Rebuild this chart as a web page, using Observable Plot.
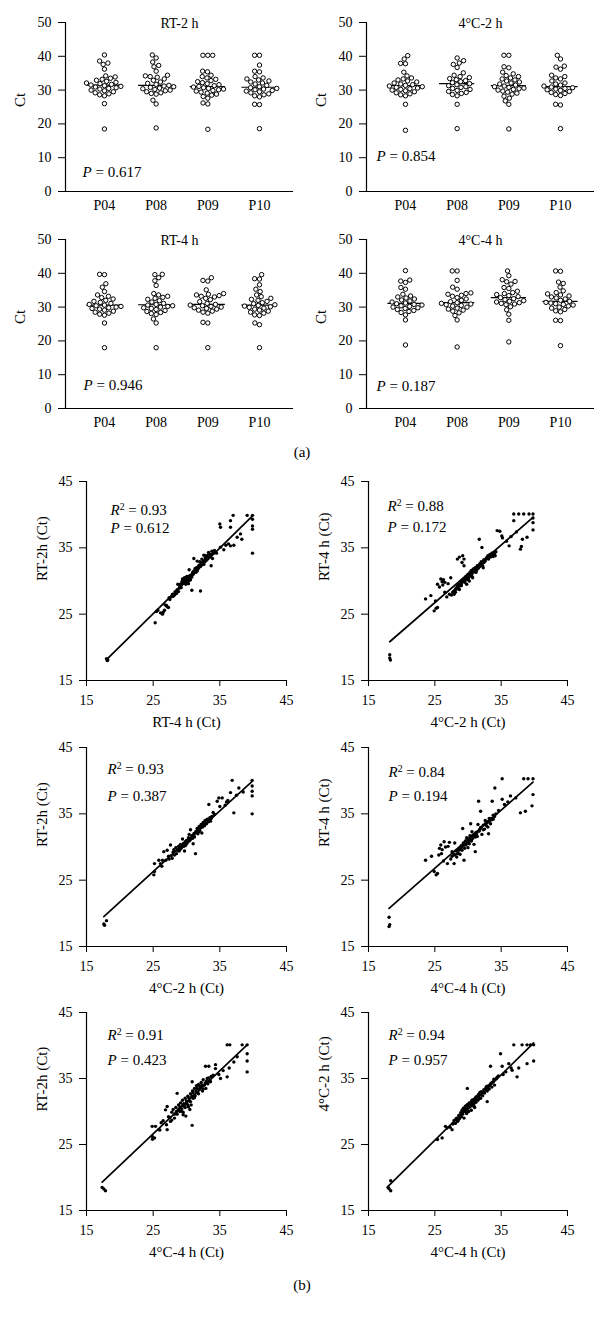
<!DOCTYPE html>
<html><head><meta charset="utf-8">
<script src="https://cdn.jsdelivr.net/npm/d3@7"></script>
<script src="https://cdn.jsdelivr.net/npm/@observablehq/plot@0.6"></script>
<style>
html,body{margin:0;padding:0;background:#fff;}
#fig{position:relative;width:605px;height:1318px;font-family:"Liberation Serif",serif;color:#000;overflow:hidden;}
#fig svg{position:absolute;overflow:visible;}
.lab{position:absolute;font-size:15px;transform:translate(-50%,-50%);}
</style></head><body><div id="fig"></div>
<script>
// ---------- (a) dot-plot data: Ct values per sample group ----------
const groups = ["P04", "P08", "P09", "P10"];
const dotTitles = ["RT-2 h", "4°C-2 h", "RT-4 h", "4°C-4 h"];
const dotP = ["0.617", "0.854", "0.946", "0.187"];

const ct_RT2h_P04 = [40.4,38.6,38.0,37.6,36.2,34.2,33.9,33.5,33.2,32.9,32.6,32.3,32.1,31.9,31.7,31.5,31.3,31.1,30.9,30.7,30.5,30.3,30.0,29.8,29.5,29.2,28.9,28.6,28.3,26.0,18.5];
const ct_RT2h_P08 = [40.4,39.5,38.3,37.3,36.9,35.6,34.4,34.2,34.0,33.8,33.3,32.9,32.4,32.0,31.7,31.4,31.2,31.0,30.8,30.6,30.4,30.2,30.0,29.8,29.5,29.2,29.0,28.8,27.0,25.9,18.8];
const ct_RT2h_P09 = [40.3,40.3,40.3,35.6,35.4,34.4,34.0,33.6,33.2,32.8,32.5,32.2,31.9,31.6,31.3,31.1,30.9,30.7,30.5,30.3,30.1,29.9,29.7,29.4,29.1,28.8,28.5,28.1,27.6,26.2,25.9,18.4];
const ct_RT2h_P10 = [40.3,40.3,37.4,35.6,35.4,34.0,33.6,33.3,33.0,32.7,32.4,32.1,31.8,31.4,31.0,30.7,30.5,30.3,30.1,29.9,29.7,29.5,29.2,28.9,28.6,28.3,28.0,25.8,25.7,18.6];

const ct_C2h_P04 = [40.2,39.2,37.9,37.8,35.3,34.2,33.6,33.3,33.0,32.7,32.4,32.1,31.8,31.6,31.4,31.2,31.0,30.8,30.6,30.4,30.2,30.0,29.8,29.5,29.2,28.9,28.6,28.3,25.8,18.1];
const ct_C2h_P08 = [39.5,38.7,38.0,37.6,36.7,35.1,34.4,34.0,33.7,33.4,33.1,32.8,32.5,32.2,31.9,31.6,31.3,31.0,30.8,30.5,30.2,29.9,29.6,29.3,29.0,28.7,28.3,25.8,18.6];
const ct_C2h_P09 = [40.3,40.3,36.9,36.6,35.3,34.8,34.3,34.0,33.6,33.3,33.0,32.7,32.4,32.1,31.8,31.5,31.2,31.0,30.8,30.6,30.4,30.2,30.0,29.7,29.4,29.1,28.8,28.2,27.6,26.8,25.8,18.5];
const ct_C2h_P10 = [40.3,39.2,37.1,36.8,36.2,34.4,34.0,33.6,33.3,32.7,32.1,31.8,31.5,31.2,30.9,30.7,30.5,30.3,30.1,29.9,29.6,29.3,29.0,28.7,28.4,25.8,25.6,18.6];

const ct_RT4h_P04 = [39.7,39.6,36.9,35.9,34.6,33.6,33.2,32.8,32.4,32.0,31.7,31.4,31.1,30.8,30.6,30.4,30.2,30.0,29.8,29.6,29.4,29.1,28.8,28.5,28.2,27.9,27.6,25.3,18.0];
const ct_RT4h_P08 = [39.7,39.6,38.7,37.8,36.4,34.0,33.6,33.2,32.9,32.6,32.3,31.9,31.5,31.1,30.8,30.6,30.4,30.2,30.0,29.8,29.6,29.3,29.0,28.7,28.4,28.1,27.8,26.5,25.3,18.0];
const ct_RT4h_P09 = [38.7,37.9,37.7,35.1,34.0,33.8,33.6,33.4,33.2,33.0,32.6,32.2,31.6,31.1,30.8,30.6,30.4,30.2,30.0,29.8,29.6,29.4,29.1,28.8,28.5,28.2,25.5,25.3,18.0];
const ct_RT4h_P10 = [39.6,38.4,38.3,36.6,35.3,34.6,33.6,33.1,32.6,32.3,32.0,31.7,31.3,31.0,30.7,30.5,30.3,30.1,29.9,29.7,29.4,29.1,28.8,28.5,28.2,27.7,27.5,25.3,24.8,18.0];

const ct_C4h_P04 = [40.8,38.0,37.7,37.3,35.8,35.3,33.8,33.3,33.0,32.7,32.4,32.1,31.8,31.5,31.2,31.0,30.8,30.6,30.4,30.2,30.0,29.8,29.6,29.3,29.0,28.7,28.4,27.7,26.2,18.8];
const ct_C4h_P08 = [40.7,40.7,37.9,35.9,35.3,34.2,34.0,33.8,33.5,33.2,32.8,32.4,32.0,31.6,31.3,31.1,30.9,30.7,30.5,30.3,30.0,29.7,29.4,29.1,28.8,28.3,27.5,26.2,18.2];
const ct_C4h_P09 = [40.7,39.3,38.1,37.6,37.5,36.8,35.8,35.5,34.7,34.3,34.0,33.7,33.4,33.1,32.8,32.5,32.2,31.9,31.7,31.5,31.3,31.1,30.9,30.7,30.1,29.2,27.9,26.1,19.7];
const ct_C4h_P10 = [40.7,40.6,37.4,37.0,35.9,34.8,34.3,33.9,33.6,33.3,33.0,32.7,32.4,32.0,31.7,31.4,31.2,31.0,30.8,30.6,30.3,30.0,29.7,29.3,28.9,28.6,26.1,26.0,18.6];

// ---------- (b) scatter data: [x, y] pairs ----------
const sc_RT4h_RT2h = [[18.0,18.3],[18.1,18.0],[18.2,18.1],[25.3,23.7],[25.5,25.4],[25.7,25.6],[26.1,25.2],[26.5,25.3],[26.8,26.4],[27.1,26.1],[27.3,26.0],[27.4,27.5],[27.7,27.6],[27.9,28.0],[28.2,27.9],[28.3,28.4],[28.6,28.7],[28.8,28.4],[29.0,29.2],[29.1,29.5],[29.3,29.9],[29.4,30.3],[29.5,29.7],[29.6,30.1],[29.7,30.5],[29.8,29.9],[29.9,30.3],[30.0,30.6],[30.0,30.0],[30.1,29.8],[30.2,30.4],[30.3,30.2],[30.4,30.7],[30.5,30.1],[30.6,30.5],[30.3,29.6],[30.7,30.9],[30.9,31.2],[31.0,31.0],[30.8,28.6],[31.2,31.6],[31.4,31.3],[31.5,32.0],[31.7,31.8],[31.9,32.4],[32.0,32.9],[32.2,32.6],[32.3,33.3],[32.5,33.0],[32.6,32.5],[32.8,33.5],[32.9,33.8],[33.0,33.2],[33.2,33.9],[33.3,34.3],[33.4,33.6],[33.6,34.0],[33.7,32.3],[33.9,33.4],[34.0,34.2],[32.1,28.5],[31.1,33.4],[30.4,31.7],[35.0,38.6],[35.1,38.1],[35.1,35.1],[35.6,34.7],[35.9,35.4],[36.3,35.6],[36.6,39.1],[36.6,38.1],[36.6,35.3],[37.0,39.9],[37.1,35.4],[37.6,36.6],[38.1,37.1],[38.3,36.3],[39.1,39.9],[39.9,39.9],[39.9,39.3],[39.9,38.3],[39.9,37.8],[39.9,34.2],
[28.9,28.9],[29.2,29.4],[29.4,29.6],[29.6,29.8],[29.8,30.2],[30.0,30.3],[30.1,30.7],[30.2,29.9],[30.4,30.4],[30.5,30.8],[30.6,30.2],[30.8,30.6],[31.0,31.4],[31.3,31.9],[31.6,31.5],[31.8,32.2],[32.1,32.2],[32.4,32.8],[32.7,33.1],[33.1,33.6],[33.5,33.9],[33.8,34.5],[34.2,34.6],[34.5,34.2],[26.4,25.0],[26.7,25.6],[27.0,26.3],[27.5,27.2],[28.0,27.7],[28.5,28.1],[29.2,29.0],[29.9,29.5],[31.6,33.0],[32.6,33.9],[28.7,29.5]];
const sc_C2h_RT4h = [[18.2,18.9],[18.2,18.4],[18.3,18.1],[23.6,27.3],[24.4,27.8],[24.9,25.5],[25.1,27.0],[25.2,25.9],[25.4,26.0],[25.4,29.5],[25.7,29.1],[25.9,30.3],[26.1,29.9],[26.3,30.2],[26.5,28.3],[26.8,27.6],[27.0,29.6],[27.4,30.5],[27.5,27.9],[27.7,28.3],[27.9,28.0],[28.0,28.6],[28.2,28.9],[28.4,33.3],[28.4,29.2],[28.6,29.5],[28.7,28.7],[28.9,29.9],[29.0,29.3],[29.1,32.8],[29.2,33.8],[29.3,30.1],[29.4,33.3],[29.5,29.8],[29.6,30.4],[29.7,30.7],[29.8,29.5],[29.9,30.2],[30.0,31.0],[30.1,30.5],[30.2,30.0],[30.3,31.3],[30.4,30.8],[30.5,31.6],[30.6,31.1],[30.7,30.5],[30.8,31.8],[31.0,31.4],[31.1,32.0],[31.3,31.6],[31.4,32.3],[31.6,32.0],[31.7,36.3],[31.8,32.6],[32.0,32.9],[32.1,35.05],[32.2,32.3],[32.4,33.2],[32.6,33.0],[32.8,33.5],[33.0,33.8],[33.1,33.3],[33.3,34.0],[33.4,33.6],[33.6,34.2],[33.8,33.7],[34.0,34.1],[34.2,34.4],[34.4,37.6],[34.8,37.5],[35.1,36.8],[35.2,36.5],[36.2,35.3],[36.9,39.1],[36.9,40.1],[37.65,40.1],[38.4,40.1],[39.2,40.1],[37.9,34.8],[38.05,35.2],[38.2,36.3],[38.9,36.6],[39.8,40.1],[39.8,39.5],[39.8,38.8],[39.8,37.7],[35.8,36.0],[36.5,36.7],[37.3,37.4],
[28.6,28.9],[28.8,29.3],[29.0,29.6],[29.2,29.9],[29.4,30.0],[29.6,30.1],[29.8,30.6],[30.0,30.3],[30.2,30.8],[30.4,31.2],[30.6,30.7],[30.8,31.4],[31.0,31.8],[31.2,31.3],[31.5,31.9],[31.8,32.2],[32.1,32.6],[32.4,32.8],[32.7,33.3],[33.0,33.4],[33.3,33.9],[33.6,34.0],[33.9,34.3],[34.1,33.8],[27.8,28.4],[28.1,28.3],[28.3,28.8],[26.2,29.4],[26.5,29.8],[28.7,33.6],[29.4,32.3],[27.2,28.0],[32.3,32.0]];
const sc_C2h_RT2h = [[17.6,18.4],[17.7,18.2],[18.0,18.9],[25.1,25.8],[25.2,26.3],[25.2,27.5],[25.85,28.0],[26.3,27.1],[26.6,29.3],[26.9,28.0],[27.1,29.5],[27.3,28.6],[27.6,30.3],[27.85,28.3],[28.0,29.2],[28.2,28.8],[28.4,29.9],[28.6,29.5],[28.8,30.1],[29.0,29.6],[29.1,30.4],[29.3,30.0],[29.4,31.2],[29.5,30.5],[29.6,30.1],[29.8,30.8],[29.9,30.3],[30.0,31.0],[30.1,30.6],[30.3,31.4],[30.4,30.9],[30.6,32.6],[30.6,31.2],[30.8,31.7],[30.9,31.3],[31.1,32.0],[31.2,31.5],[31.35,29.0],[31.4,32.3],[31.6,32.8],[31.7,32.0],[31.9,33.1],[32.0,32.5],[32.2,33.4],[32.4,33.0],[32.5,33.7],[32.7,33.2],[32.8,34.0],[33.0,33.5],[33.1,34.2],[33.3,33.8],[33.5,34.4],[33.6,33.9],[33.8,34.6],[33.35,36.4],[34.0,35.2],[34.6,36.9],[34.85,37.4],[35.35,37.4],[35.8,36.3],[36.2,37.0],[36.6,38.2],[36.85,40.05],[37.1,35.15],[37.5,37.8],[37.85,38.9],[38.5,38.3],[39.85,40.05],[39.85,39.2],[39.85,38.4],[39.85,37.7],[39.85,35.0],[32.3,32.1],[31.0,30.5],[29.7,29.4],
[28.5,29.0],[28.9,29.4],[29.2,29.8],[29.4,30.1],[29.6,30.5],[29.8,30.2],[30.0,30.6],[30.2,30.9],[30.5,31.0],[30.7,31.3],[30.9,31.6],[31.1,31.7],[31.3,32.1],[31.5,32.4],[31.8,32.6],[32.1,32.9],[32.3,33.2],[32.6,33.4],[32.9,33.6],[33.2,34.0],[33.4,34.1],[33.7,34.3],[34.2,34.9],[27.4,28.2],[27.7,28.7],[28.1,29.6],[26.1,27.5],[26.4,28.0],[35.0,36.1],[36.0,36.8],[30.4,31.9],[31.9,32.3]];
const sc_C4h_RT4h = [[18.1,19.4],[18.2,18.3],[18.1,18.0],[23.6,28.0],[24.5,28.6],[24.9,26.3],[25.2,25.8],[25.4,26.0],[25.6,28.8],[25.9,30.3],[26.1,29.6],[26.4,30.8],[26.6,30.0],[26.9,27.5],[27.2,30.7],[27.4,28.2],[27.6,29.3],[27.9,27.5],[28.0,28.8],[28.2,29.4],[28.3,28.5],[28.5,29.1],[28.7,29.8],[28.8,28.9],[29.0,30.2],[29.1,29.5],[29.3,30.6],[29.4,28.0],[29.5,29.8],[29.6,30.9],[29.7,30.3],[29.8,31.4],[29.9,30.6],[30.0,29.9],[30.1,31.1],[30.2,30.5],[30.3,31.7],[30.5,30.9],[30.6,32.3],[30.7,31.3],[30.9,30.4],[31.0,31.8],[31.1,29.3],[31.2,32.2],[31.4,31.6],[31.5,33.4],[31.6,36.9],[31.7,32.4],[31.9,35.4],[31.9,32.9],[32.1,31.9],[32.3,33.3],[32.5,32.7],[32.6,34.0],[32.8,33.2],[33.0,33.8],[33.1,32.0],[33.2,34.3],[33.4,33.5],[33.65,36.9],[33.6,34.1],[33.8,34.8],[34.05,38.9],[34.2,35.0],[34.6,35.5],[35.15,40.3],[35.15,37.2],[35.5,36.4],[36.0,36.8],[36.4,37.7],[37.2,37.4],[37.9,35.15],[38.4,40.3],[38.65,35.4],[39.05,40.3],[39.65,36.2],[39.8,40.3],[39.8,37.9],[30.4,33.5],[29.2,32.8],
[28.4,29.0],[28.6,29.5],[28.9,29.7],[29.1,30.0],[29.3,30.2],[29.5,30.4],[29.7,30.7],[29.9,31.0],[30.1,30.8],[30.3,31.4],[30.5,31.0],[30.7,31.7],[30.9,31.9],[31.1,31.5],[31.3,32.0],[31.6,32.4],[31.8,32.7],[32.0,33.0],[32.3,32.6],[32.6,33.5],[32.9,33.7],[33.2,33.9],[33.5,34.3],[33.8,34.2],[34.0,34.6],[27.6,28.6],[27.9,28.9],[26.3,27.9],[26.0,29.0],[25.7,29.8],[27.0,30.1],[28.0,30.6],[33.0,33.0]];
const sc_C4h_RT2h = [[17.35,18.5],[17.6,18.25],[17.85,18.0],[24.85,26.25],[24.9,25.8],[24.85,27.75],[25.35,27.75],[25.85,27.25],[26.2,28.3],[26.5,28.6],[26.85,30.25],[27.1,27.25],[27.1,30.75],[27.3,29.2],[27.6,28.5],[27.8,29.9],[28.0,30.3],[28.2,29.0],[28.4,30.6],[28.6,32.75],[28.6,29.6],[28.8,31.0],[29.0,30.0],[29.1,31.3],[29.3,30.4],[29.4,31.7],[29.5,29.5],[29.7,30.8],[29.8,32.0],[29.9,29.3],[30.0,31.2],[30.2,32.3],[30.3,30.7],[30.4,31.6],[30.6,32.7],[30.7,31.0],[30.85,34.5],[30.85,27.9],[30.9,33.1],[31.0,32.0],[31.2,33.5],[31.3,32.4],[31.5,33.9],[31.6,32.9],[31.8,34.1],[31.9,33.3],[32.1,33.6],[32.2,34.4],[32.4,33.1],[32.5,34.8],[32.7,34.0],[32.85,36.85],[32.9,33.5],[33.1,35.0],[33.2,34.2],[33.35,36.85],[33.5,34.7],[33.7,35.3],[34.0,35.5],[34.35,37.1],[34.35,36.5],[34.85,35.6],[35.1,35.0],[35.5,36.2],[36.1,35.25],[36.1,40.1],[36.5,40.1],[36.4,36.6],[37.1,37.5],[37.6,38.3],[38.35,40.1],[39.1,40.1],[39.1,38.75],[39.1,37.65],[39.1,36.0],
[28.2,29.6],[28.5,30.0],[28.8,30.3],[29.0,30.7],[29.2,30.1],[29.4,30.9],[29.6,31.2],[29.8,30.6],[30.0,31.6],[30.2,31.0],[30.4,32.0],[30.6,31.5],[30.8,32.3],[31.0,32.8],[31.2,32.1],[31.4,33.1],[31.6,33.5],[31.8,32.7],[32.0,33.8],[32.3,34.0],[32.5,33.4],[32.8,34.3],[33.0,34.6],[33.3,35.1],[33.6,34.5],[27.5,29.1],[27.8,28.7],[27.0,28.0],[26.0,27.2],[25.2,26.0],[29.5,29.9],[30.5,30.3]];
const sc_C4h_C2h = [[17.95,18.5],[18.35,19.5],[18.35,18.0],[18.1,18.3],[25.4,25.75],[26.1,26.0],[26.6,27.75],[26.85,27.5],[27.3,27.6],[27.6,27.25],[27.9,28.65],[28.1,28.2],[28.3,29.0],[28.4,28.5],[28.6,29.4],[28.7,28.9],[28.9,29.8],[29.0,29.2],[29.1,30.2],[29.2,29.6],[29.3,30.5],[29.4,29.0],[29.5,30.0],[29.6,30.8],[29.7,30.3],[29.8,29.7],[29.9,33.5],[29.9,31.0],[30.0,30.5],[30.1,30.0],[30.2,31.3],[30.3,30.7],[30.4,31.0],[30.5,30.2],[30.6,31.5],[30.7,30.9],[30.8,31.8],[30.9,31.2],[31.0,30.6],[31.1,32.0],[31.2,31.4],[31.4,32.3],[31.5,31.7],[31.7,32.5],[31.9,32.0],[32.0,33.0],[32.2,32.4],[32.4,33.3],[32.5,32.8],[32.7,33.6],[32.9,31.5],[32.9,33.1],[33.1,33.9],[33.2,33.4],[33.4,36.85],[33.4,34.2],[33.6,33.7],[33.8,34.5],[34.0,34.0],[34.3,35.0],[34.6,35.4],[34.9,38.75],[35.15,36.85],[35.3,35.6],[35.7,36.0],[36.15,37.25],[36.5,36.6],[36.65,36.25],[36.9,40.1],[37.4,35.25],[37.65,36.6],[38.15,40.1],[38.9,40.1],[38.9,37.25],[39.4,40.1],[39.9,40.1],[39.9,37.65],
[28.8,29.3],[29.0,29.7],[29.2,30.0],[29.4,30.3],[29.6,30.5],[29.8,30.9],[30.0,31.1],[30.1,30.6],[30.3,31.3],[30.5,31.0],[30.6,31.7],[30.8,31.4],[31.0,31.9],[31.2,32.2],[31.4,31.9],[31.6,32.6],[31.8,32.9],[32.1,32.9],[32.3,33.0],[32.6,33.3],[32.8,33.8],[33.0,33.5],[33.3,34.0],[33.6,34.4],[33.9,34.9],[34.4,35.2],[28.5,28.6],[28.2,28.9],[27.7,28.1],[29.9,30.0],[30.9,30.8],[31.7,32.0]];

const scXLabels = ["RT-4 h (Ct)", "4°C-2 h (Ct)", "4°C-2 h (Ct)", "4°C-4 h (Ct)", "4°C-4 h (Ct)", "4°C-4 h (Ct)"];
const scYLabels = ["RT-2h (Ct)", "RT-4 h (Ct)", "RT-2h (Ct)", "RT-4 h (Ct)", "RT-2h (Ct)", "4°C-2 h (Ct)"];
const scR2 = ["0.93", "0.88", "0.93", "0.84", "0.91", "0.94"];
const scP = ["0.612", "0.172", "0.387", "0.194", "0.423", "0.957"];
const ticksA = [0, 10, 20, 30, 40, 50];
const ticksB = [15, 25, 35, 45];

// ---------- helpers ----------
const fig = document.getElementById("fig");
const FONT = "'Liberation Serif', 'Times New Roman', serif";

function place(svg, left, top) {
  svg.style.left = left + "px";
  svg.style.top = top + "px";
  svg.querySelectorAll("text").forEach(t => {
    const s = t.textContent;
    if (/^P = /.test(s)) {
      t.innerHTML = '<tspan font-style="italic">P</tspan> = ' + s.slice(4);
    } else if (/^R2 = /.test(s)) {
      t.innerHTML = '<tspan font-style="italic">R</tspan><tspan font-size="0.66em" dy="-0.5em">2</tspan><tspan dy="0.33em"> = ' + s.slice(5) + '</tspan>';
    }
  });
  fig.appendChild(svg);
}

function swarm(values, pxPerUnit, D) {
  const idx = d3.range(values.length).sort((a, b) => values[a] - values[b]);
  const placed = [], off = new Array(values.length);
  for (const i of idx) {
    const y = values[i] * pxPerUnit;
    const forb = [];
    for (const p of placed) {
      const dy = y - p.y;
      if (Math.abs(dy) < D) { const w = Math.sqrt(D * D - dy * dy); forb.push([p.x - w, p.x + w]); }
    }
    const cands = [0];
    for (const [a, b] of forb) cands.push(a, b);
    cands.sort((a, b) => Math.abs(a) - Math.abs(b) || a - b);
    let x = 0;
    for (const c of cands) {
      if (forb.every(([a, b]) => c <= a + 1e-6 || c >= b - 1e-6)) { x = c; break; }
    }
    placed.push({x, y});
    off[i] = x;
  }
  return off;
}

// ---------- (a) panels ----------
const A = {w: 300, h: 215, ml: 65, mr: 7, mt: 22, mb: 24};
const xDomainA = [-0.754, 3.658];
const pxPerGroup = (A.w - A.ml - A.mr) / (xDomainA[1] - xDomainA[0]);
const pxPerCt = (A.h - A.mt - A.mb) / 50;

function dotPanel(title, p, data, left, top, pdx, pdy) {
  const rows = [], meds = [];
  data.forEach((vals, gi) => {
    const off = swarm(vals, pxPerCt, 4.9);
    vals.forEach((v, i) => rows.push({x: gi + off[i] / pxPerGroup, y: v}));
    meds.push({gi, m: d3.median(vals)});
  });
  const svg = Plot.plot({
    width: A.w, height: A.h, marginLeft: A.ml, marginRight: A.mr, marginTop: A.mt, marginBottom: A.mb,
    x: {domain: xDomainA}, y: {domain: [0, 50]},
    style: {fontFamily: FONT, fontSize: "14px", background: "transparent", color: "black", overflow: "visible"},
    marks: [
      Plot.ruleX([xDomainA[0]], {strokeWidth: 1.2}),
      Plot.ruleY([0], {strokeWidth: 1.2}),
      Plot.axisY({ticks: ticksA, tickSize: 7, tickPadding: 7, label: null}),
      Plot.axisX({ticks: [0, 1, 2, 3], tickFormat: i => groups[i], tickSize: 0, tickPadding: 9, label: null}),
      Plot.ruleY(meds, {y: "m", x1: d => d.gi - 0.34, x2: d => d.gi + 0.34, strokeWidth: 1.2}),
      Plot.dot(rows, {x: "x", y: "y", r: 2.2, fill: "white", stroke: "black", strokeWidth: 1}),
      Plot.text([title], {text: d => d, frameAnchor: "top", dy: -4, fontSize: 14}),
      Plot.text(["Ct"], {text: d => d, frameAnchor: "left", dx: -45, rotate: -90, fontSize: 15}),
      Plot.text(["P = " + p], {text: d => d, frameAnchor: "bottom-left", textAnchor: "start", dx: pdx, dy: pdy, fontSize: 15})
    ]
  });
  place(svg, left, top);
}

dotPanel(dotTitles[0], dotP[0], [ct_RT2h_P04, ct_RT2h_P08, ct_RT2h_P09, ct_RT2h_P10], 0, 0, 17, -15);
dotPanel(dotTitles[1], dotP[1], [ct_C2h_P04, ct_C2h_P08, ct_C2h_P09, ct_C2h_P10], 301, 0, 10, -31);
dotPanel(dotTitles[2], dotP[2], [ct_RT4h_P04, ct_RT4h_P08, ct_RT4h_P09, ct_RT4h_P10], 0, 217, 18, -19);
dotPanel(dotTitles[3], dotP[3], [ct_C4h_P04, ct_C4h_P08, ct_C4h_P09, ct_C4h_P10], 301, 217, 10, -18);

// ---------- (b) panels ----------
function scatterPanel(k, pts, left, top, ml, fw, fh, adx, r2dy, pdy) {
  const mt = 21, mb = 55, w = 300;
  const svg = Plot.plot({
    width: w, height: mt + fh + mb, marginLeft: ml, marginRight: w - ml - fw, marginTop: mt, marginBottom: mb,
    x: {domain: [15, 45]}, y: {domain: [15, 45]},
    style: {fontFamily: FONT, fontSize: "14px", background: "transparent", color: "black", overflow: "visible"},
    marks: [
      Plot.ruleX([15], {strokeWidth: 1.2}),
      Plot.ruleY([15], {strokeWidth: 1.2}),
      Plot.axisY({ticks: ticksB, tickSize: 7, tickPadding: 7, label: null}),
      Plot.axisX({ticks: ticksB, tickSize: 6, tickPadding: 9, label: null}),
      Plot.linearRegressionY(pts, {x: d => d[0], y: d => d[1], ci: 0, stroke: "black", strokeWidth: 1.7}),
      Plot.dot(pts, {x: d => d[0], y: d => d[1], r: 1.7, fill: "black"}),
      Plot.text([scXLabels[k]], {text: d => d, frameAnchor: "bottom", dy: 46, fontSize: 15}),
      Plot.text([scYLabels[k]], {text: d => d, frameAnchor: "left", dx: -44, rotate: -90, fontSize: 15}),
      Plot.text(["R2 = " + scR2[k]], {text: d => d, frameAnchor: "top-left", textAnchor: "start", dx: adx, dy: r2dy, fontSize: 15}),
      Plot.text(["P = " + scP[k]], {text: d => d, frameAnchor: "top-left", textAnchor: "start", dx: adx, dy: pdy, fontSize: 15})
    ]
  });
  place(svg, left, top);
}

scatterPanel(0, sc_RT4h_RT2h, 0, 460, 86, 200, 199, 24, 23, 41);
scatterPanel(1, sc_C2h_RT4h, 300, 460, 68, 199, 199, 19, 19, 40);
scatterPanel(2, sc_C2h_RT2h, 0, 726, 86, 200, 199, 21, 16, 43);
scatterPanel(3, sc_C4h_RT4h, 300, 726, 68, 199, 199, 20, 19, 43);
scatterPanel(4, sc_C4h_RT2h, 0, 991, 86, 200, 198, 21, 17, 42);
scatterPanel(5, sc_C4h_C2h, 300, 991, 68, 199, 198, 20, 17, 42);

// panel letters
for (const [txt, x, y] of [["(a)", 302, 452], ["(b)", 302, 1285]]) {
  const d = document.createElement("div");
  d.className = "lab"; d.textContent = txt;
  d.style.left = x + "px"; d.style.top = y + "px";
  fig.appendChild(d);
}
</script></body></html>
